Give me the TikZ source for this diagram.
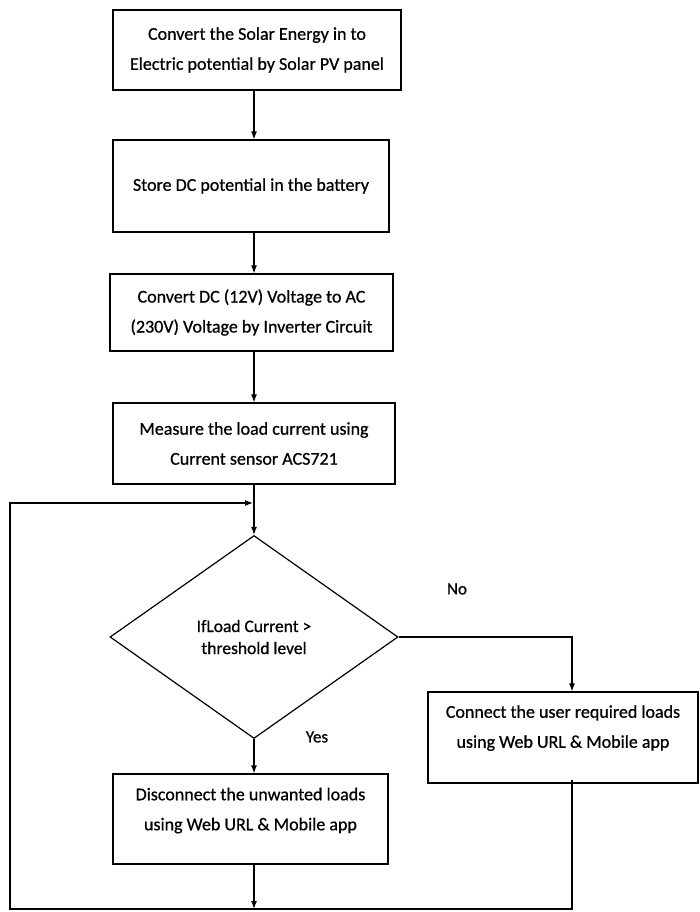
\documentclass[tikz,border=0pt]{standalone}
\usepackage{fontspec}
\setmainfont{Carlito}[FakeBold=0.7]
\usetikzlibrary{
    arrows.meta,
    shapes.geometric % to use \node[diamond]
}

\begin{document}
\begin{tikzpicture} [
    x=1pt, y=-1pt,
    procbox/.style = {draw, line width=1.2pt, align=center, inner sep=0pt,
        font=\fontsize{18}{30}\selectfont},
    decision/.style = {diamond, draw, line width=1.2pt, align=center, inner sep=0pt,
        aspect=1.42, font=\fontsize{17.5}{22}\selectfont},
    flow/.style = {line width=1.2pt, -{Latex[length=8pt,width=6pt]}},
    answer/.style = {font=\fontsize{17}{20}\selectfont}
]
    \useasboundingbox (0,0) rectangle (699,912);

    \node[procbox, minimum width=288, minimum height=80] (solar) at (257,50)
        {Convert the Solar Energy in to\\Electric potential by Solar PV panel};
    \node[procbox, minimum width=276, minimum height=92] (store) at (251,186)
        {Store DC potential in the battery};
    \node[procbox, minimum width=283, minimum height=77] (invert) at (251.5,312.5)
        {Convert DC (12V) Voltage to AC\\(230V) Voltage by Inverter Circuit};
    \node[procbox, minimum width=282, minimum height=81] (measure) at (254,443.5)
        {Measure the load current using\\Current sensor ACS721};

    \node[decision, minimum width=288, minimum height=203] (check) at (254,637)
        {IfLoad Current >\\threshold level};

    \node[procbox, minimum width=270, minimum height=91, text depth=22pt] (connect) at (563,737.5)
        {Connect the user required loads\\using Web URL \& Mobile app};
    \node[procbox, minimum width=275, minimum height=90, text depth=20pt] (disconnect) at (250.5,819)
        {Disconnect the unwanted loads\\using Web URL \& Mobile app};

    \node[answer] (no) at (457,589) {No};
    \node[answer] (yes) at (317,737) {Yes};

    % loop corners
    \coordinate (merge) at (253,503);
    \coordinate (botR) at (572,909);
    \coordinate (botL) at (10,909);

    \draw[flow] (solar.south -| check.north) -- (store.north -| check.north);
    \draw[flow] (store.south -| check.north) -- (invert.north -| check.north);
    \draw[flow] (invert.south -| check.north) -- (measure.north -| check.north);
    \draw[flow] (measure.south -| check.north) -- (check.north);

    \draw[flow] (check.east) -| (connect.north -| botR);
    \draw[flow] (check.south) -- (disconnect.north -| check.south);

    \draw[flow] (disconnect.south -| check.south) -- (botL -| check.south);
    \draw[flow] ([yshift=4]connect.south -| botR) -- (botR) -- (botL) |- (merge);
\end{tikzpicture}
\end{document}
